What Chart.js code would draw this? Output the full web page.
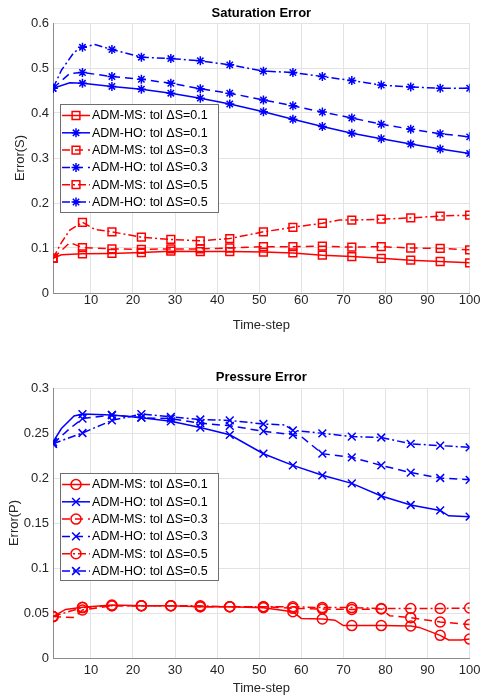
<!DOCTYPE html>
<html>
<head>
<meta charset="utf-8">
<script src="https://cdn.jsdelivr.net/npm/chart.js@4.4.0/dist/chart.umd.min.js"></script>
<style>
    body { margin: 0; background: #fff; }
    canvas { display: block; }
</style>
</head>
<body>
<canvas id="plot_S" width="481" height="340"></canvas>
<canvas id="plot_P" width="481" height="358"></canvas>
<script>
// time-steps where markers are drawn
const markerSteps = [1, 8, 15, 22, 29, 36, 43, 51, 58, 65, 72, 79, 86, 93, 100];
const xTicks = [10, 20, 30, 40, 50, 60, 70, 80, 90, 100];
const satTicks = [0, 0.1, 0.2, 0.3, 0.4, 0.5, 0.6];
const presTicks = [0, 0.05, 0.1, 0.15, 0.2, 0.25, 0.3];
const legendLabels = ['ADM-MS: tol ΔS=0.1', 'ADM-HO: tol ΔS=0.1', 'ADM-MS: tol ΔS=0.3',
                      'ADM-HO: tol ΔS=0.3', 'ADM-MS: tol ΔS=0.5', 'ADM-HO: tol ΔS=0.5'];

// Saturation error, values at markerSteps
const satMs01 = [0.077, 0.087, 0.088, 0.090, 0.093, 0.092, 0.092, 0.091, 0.089, 0.084, 0.081, 0.077, 0.073, 0.070, 0.067];
const satHo01 = [0.455, 0.466, 0.459, 0.453, 0.444, 0.433, 0.420, 0.403, 0.386, 0.370, 0.355, 0.343, 0.331, 0.320, 0.310];
const satMs03 = [0.077, 0.101, 0.098, 0.097, 0.098, 0.098, 0.100, 0.103, 0.103, 0.104, 0.102, 0.103, 0.100, 0.099, 0.096];
const satHo03 = [0.455, 0.490, 0.481, 0.475, 0.466, 0.454, 0.444, 0.429, 0.416, 0.402, 0.389, 0.375, 0.364, 0.354, 0.347];
const satMs05 = [0.077, 0.157, 0.136, 0.124, 0.119, 0.116, 0.121, 0.136, 0.146, 0.155, 0.162, 0.164, 0.167, 0.171, 0.173];
const satHo05 = [0.455, 0.546, 0.541, 0.524, 0.521, 0.516, 0.507, 0.493, 0.490, 0.481, 0.472, 0.462, 0.458, 0.455, 0.455];
// extra readings between markers, where the curves bend
const satMs01Extra = [[3, 0.085]];
const satHo01Extra = [[5, 0.467]];
const satMs03Extra = [[5, 0.112]];
const satHo03Extra = [[5, 0.488]];
const satMs05Extra = [[3, 0.112], [5, 0.140], [11, 0.141], [69, 0.162]];
const satHo05Extra = [[3, 0.495], [6, 0.535], [11, 0.552]];

// Pressure error, values at markerSteps
const presMs01 = [0.046, 0.0563, 0.0589, 0.058, 0.058, 0.057, 0.057, 0.0559, 0.0515, 0.0433, 0.036, 0.036, 0.0356, 0.0252, 0.021];
const presHo01 = [0.240, 0.271, 0.270, 0.267, 0.263, 0.256, 0.248, 0.227, 0.214, 0.203, 0.194, 0.180, 0.170, 0.164, 0.157];
const presMs03 = [0.046, 0.0533, 0.058, 0.058, 0.058, 0.057, 0.057, 0.057, 0.0552, 0.0544, 0.054, 0.0545, 0.0448, 0.0400, 0.0372];
const presHo03 = [0.238, 0.266, 0.270, 0.267, 0.266, 0.261, 0.258, 0.252, 0.248, 0.227, 0.223, 0.214, 0.206, 0.200, 0.198];
const presMs05 = [0.046, 0.056, 0.058, 0.058, 0.058, 0.058, 0.057, 0.057, 0.057, 0.056, 0.056, 0.055, 0.055, 0.055, 0.0555];
const presHo05 = [0.238, 0.250, 0.264, 0.271, 0.268, 0.265, 0.264, 0.260, 0.253, 0.2496, 0.246, 0.245, 0.238, 0.236, 0.234];
const presMs01Extra = [[4, 0.054], [60, 0.044], [68, 0.042], [70, 0.036], [88, 0.034], [95, 0.020], [98, 0.020]];
const presHo01Extra = [[3, 0.255], [6, 0.269], [95, 0.158]];
const presMs03Extra = [[6, 0.045], [81, 0.047]];
const presHo03Extra = [[5, 0.255], [60, 0.246]];
const presMs05Extra = [[5, 0.052]];
const presHo05Extra = [[56, 0.259]];

Chart.defaults.font.family = "'Liberation Sans', Arial, sans-serif";
Chart.defaults.font.size = 13;
Chart.defaults.color = '#262626';

const RED = '#ff0000', BLUE = '#0000ff';
const SOLID = [], DASH = [8, 5], DASHDOT = [8, 3, 2, 3];

function points(vals, extra) {
    let pts = markerSteps.map((x, i) => ({x: x, y: vals[i]}));
    extra.forEach(p => pts.push({x: p[0], y: p[1]}));
    return pts.sort((a, b) => a.x - b.x);
}

function series(i, vals, extra, color, dash, marker, r) {
    return {
        label: legendLabels[i],
        data: points(vals, extra),
        borderColor: color,
        borderWidth: 1.5,
        borderDash: dash,
        pointStyle: marker,
        pointBorderColor: color,
        pointBackgroundColor: 'rgba(0,0,0,0)',
        pointBorderWidth: 1.5,
        pointRadius: ctx => (ctx.raw && markerSteps.includes(ctx.raw.x)) ? r : 0,
        pointHoverRadius: 0,
        legendRadius: r,
        tension: 0
    };
}

function drawMarker(ctx, style, x, y, r) {
    ctx.beginPath();
    if (style === 'rect') {
        let s = r * Math.SQRT1_2;
        ctx.rect(x - s, y - s, 2 * s, 2 * s);
    } else if (style === 'circle') {
        ctx.arc(x, y, r, 0, Math.PI * 2);
    } else {
        let d = r * Math.SQRT1_2;
        ctx.moveTo(x - d, y - d); ctx.lineTo(x + d, y + d);
        ctx.moveTo(x - d, y + d); ctx.lineTo(x + d, y - d);
        if (style === 'star') {
            ctx.moveTo(x - r, y); ctx.lineTo(x + r, y);
            ctx.moveTo(x, y - r); ctx.lineTo(x, y + r);
        }
    }
    ctx.stroke();
}

// legend box inside the plot, like MATLAB's
const legendBox = {
    id: 'legendBox',
    afterDraw(chart, args, opts) {
        const ctx = chart.ctx;
        ctx.save();
        ctx.fillStyle = '#fff';
        ctx.fillRect(opts.x, opts.y, opts.w, opts.h);
        ctx.strokeStyle = '#6e6e6e';
        ctx.lineWidth = 1;
        ctx.strokeRect(opts.x + 0.5, opts.y + 0.5, opts.w, opts.h);
        ctx.font = "12.5px 'Liberation Sans', Arial, sans-serif";
        ctx.textBaseline = 'middle';
        chart.data.datasets.forEach((ds, i) => {
            let cy = opts.y + 11.5 + i * opts.row;
            ctx.strokeStyle = ds.borderColor;
            ctx.lineWidth = 1.5;
            ctx.setLineDash(ds.borderDash);
            ctx.beginPath();
            ctx.moveTo(opts.x + 2, cy);
            ctx.lineTo(opts.x + 30, cy);
            ctx.stroke();
            ctx.setLineDash([]);
            drawMarker(ctx, ds.pointStyle, opts.x + 16, cy, ds.legendRadius);
            ctx.fillStyle = '#000';
            ctx.fillText(ds.label, opts.x + 32, cy + 0.5);
        });
        ctx.restore();
    }
};

function makeChart(id, title, yTitle, yTicks, yMax, datasets, lay) {
    return new Chart(document.getElementById(id).getContext('2d'), {
        type: 'line',
        data: {datasets: datasets},
        plugins: [legendBox],
        options: {
            responsive: false,
            animation: false,
            devicePixelRatio: 1,
            events: [],
            layout: {padding: {top: lay.top, left: 0, right: 11, bottom: 0}},
            plugins: {
                legend: {display: false},
                tooltip: {enabled: false},
                title: {
                    display: true,
                    text: title,
                    fullSize: false,
                    color: '#000',
                    font: {size: 13, weight: 'bold'},
                    padding: {top: 6, bottom: lay.titleBottom}
                },
                legendBox: lay.legend
            },
            scales: {
                x: {
                    type: 'linear',
                    min: 1,
                    max: 100,
                    afterBuildTicks: ax => { ax.ticks = xTicks.map(v => ({value: v})); },
                    afterFit: ax => { ax.height = lay.xHeight; },
                    grid: {color: '#e3e3e3', drawTicks: false},
                    border: {color: '#8c8c8c', width: 1},
                    ticks: {padding: 0.5, color: '#262626', maxRotation: 0, font: {lineHeight: lay.xLine}},
                    title: {display: true, text: 'Time-step', color: '#262626', padding: {top: 0, bottom: lay.xTitleBottom}}
                },
                y: {
                    min: 0,
                    max: yMax,
                    afterBuildTicks: ax => { ax.ticks = yTicks.map(v => ({value: v})); },
                    afterFit: ax => { ax.width = 53; },
                    grid: {color: '#e3e3e3', drawTicks: false},
                    border: {color: '#8c8c8c', width: 1},
                    ticks: {padding: 4, color: '#262626', callback: v => String(+v.toFixed(2))},
                    title: {display: true, text: yTitle, color: '#262626', padding: {top: lay.yTitleTop, bottom: 0}}
                }
            }
        }
    });
}

window.onload = function() {
    makeChart('plot_S', 'Saturation Error', 'Error(S)', satTicks, 0.6, [
        series(0, satMs01, satMs01Extra, RED, SOLID, 'rect', 5.5),
        series(1, satHo01, satHo01Extra, BLUE, SOLID, 'star', 4.5),
        series(2, satMs03, satMs03Extra, RED, DASH, 'rect', 5.5),
        series(3, satHo03, satHo03Extra, BLUE, DASH, 'star', 4.5),
        series(4, satMs05, satMs05Extra, RED, DASHDOT, 'rect', 5.5),
        series(5, satHo05, satHo05Extra, BLUE, DASHDOT, 'star', 4.5)
    ], {top: 0, titleBottom: 1.4, xHeight: 47, xLine: 1.1, xTitleBottom: 7, yTitleTop: 13,
        legend: {x: 60, y: 104, w: 158, h: 108, row: 17.3}});

    makeChart('plot_P', 'Pressure Error', 'Error(P)', presTicks, 0.3, [
        series(0, presMs01, presMs01Extra, RED, SOLID, 'circle', 5),
        series(1, presHo01, presHo01Extra, BLUE, SOLID, 'crossRot', 5.5),
        series(2, presMs03, presMs03Extra, RED, DASH, 'circle', 5),
        series(3, presHo03, presHo03Extra, BLUE, DASH, 'crossRot', 5.5),
        series(4, presMs05, presMs05Extra, RED, DASHDOT, 'circle', 5),
        series(5, presHo05, presHo05Extra, BLUE, DASHDOT, 'crossRot', 5.5)
    ], {top: 24, titleBottom: 2.4, xHeight: 40, xLine: 1.8, xTitleBottom: 2, yTitleTop: 7,
        legend: {x: 60, y: 133, w: 158, h: 107, row: 17.3}});
};
</script>
</body>
</html>
